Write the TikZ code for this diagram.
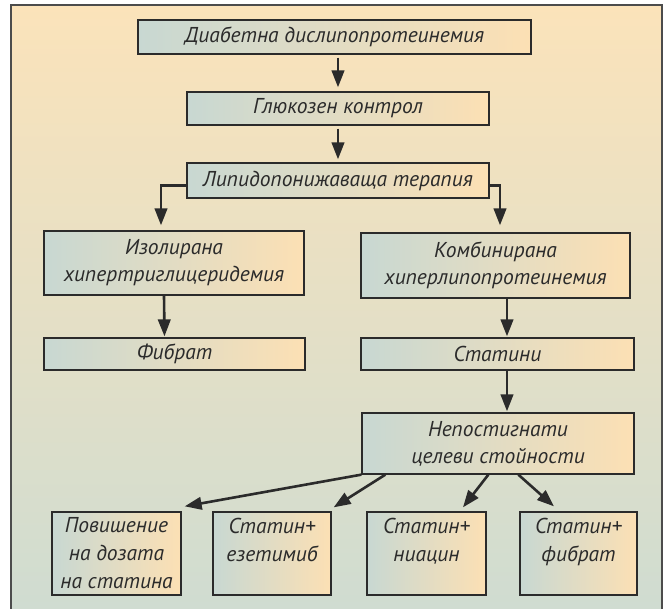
\documentclass[tikz,border=0pt]{standalone}
\usepackage{fontspec}
\setmainfont{PT Sans}
\usetikzlibrary{arrows.meta}

\definecolor{bgtop}{HTML}{FBE3BA}
\definecolor{bgbot}{HTML}{CFDCD1}
\definecolor{boxl}{HTML}{C8D8D2}
\definecolor{boxr}{HTML}{FCE0B4}
\definecolor{ink}{HTML}{2B2B2B}

\tikzset{
  arr/.style={-{Triangle[length=17pt,width=12.5pt]}, line width=2.6pt, draw=ink},
}

\begin{document}
\begin{tikzpicture}[x=1pt,y=-1pt]

        \useasboundingbox (0,0) rectangle (672,609);
        \shade[top color=bgtop, bottom color=bgbot] (11,5) rectangle (662,615);
        \draw[black!70, line width=2pt] (11,615) -- (11,5) -- (662,5) -- (662,615);

        \begin{scope}[every node/.style={draw=ink, line width=1.3pt, left color=boxl, right color=boxr,
            align=center, text=ink, inner sep=0pt, font=\itshape\fontsize{21.5}{27}\selectfont}]
          \node[minimum width=393pt, minimum height=34pt] (1)  at (334.5,37)  {Диабетна дислипопротеинемия};
          \node[minimum width=302pt, minimum height=33pt] (2)  at (338,108.5) {Глюкозен контрол};
          \node[minimum width=302pt, minimum height=35pt] (3)  at (338,180.5) {Липидопонижаваща терапия};
          \node[minimum width=260pt, minimum height=64pt] (4)  at (174,263)   {Изолирана\\хипертриглицеридемия};
          \node[minimum width=269pt, minimum height=65pt] (5)  at (495.5,265.5) {Комбинирана\\хиперлипопротеинемия};
          \node[minimum width=261pt, minimum height=32pt] (6)  at (174.5,354) {Фибрат};
          \node[minimum width=273pt, minimum height=32pt] (7)  at (497.5,354) {Статини};
          \node[minimum width=272pt, minimum height=61pt] (8)  at (498,443.5) {Непостигнати\\целеви стойности};
        \end{scope}

        % lower row: three lines, the Статин+ boxes leave the last one empty
        \begin{scope}[every node/.style={draw=ink, line width=1.3pt, left color=boxl, right color=boxr,
            align=center, text=ink, inner sep=0pt, minimum height=83pt,
            font=\itshape\fontsize{21.5}{28}\selectfont}]
          \node[minimum width=129pt] (9)  at (116.5,553.5) {Повишение\\на дозата\\на статина};
          \node[minimum width=118pt] (10) at (272,553.5)   {Статин+\\езетимиб\\\phantom{на статина}};
          \node[minimum width=119pt] (11) at (426.5,553.5) {Статин+\\ниацин\\\phantom{на статина}};
          \node[minimum width=117pt] (12) at (578.5,553.5) {Статин+\\фибрат\\\phantom{на статина}};
        \end{scope}

        \begin{scope}[every edge/.style={draw, arr}]
          \path (2.north |- 1.south) edge[shorten <=3pt, shorten >=4pt] (2.north);
          \path (2.south) edge[shorten <=3pt, shorten >=3pt] (3.north);
          \path ([xshift=-10pt]4.south) edge[shorten >=1pt] ([xshift=-10pt]6.north);
          \path ([xshift=11.5pt]5.south) edge[shorten >=1pt] ([xshift=9.5pt]7.north);
          \path ([xshift=9.5pt]7.south) edge[shorten >=1pt] ([xshift=9pt]8.north);
          \path (8.south west) edge ([xshift=3pt,yshift=5pt]9.north east);
          \path ([xshift=24pt]8.south west) edge ([xshift=2pt,yshift=4pt]10.north east);
          \path ([xshift=127pt]8.south west) edge ([xshift=36.5pt,yshift=4pt]11.north);
          \path ([xshift=157pt]8.south west) edge ([xshift=-24.5pt,yshift=5pt]12.north);
        \end{scope}

        \draw[arr] ([yshift=-5pt]3.west) -| ([xshift=-13pt,yshift=5pt]4.north);
        \draw[arr] ([yshift=-5pt]3.east) -| ([xshift=4.5pt,yshift=7pt]5.north);

      \end{tikzpicture}
\end{document}
